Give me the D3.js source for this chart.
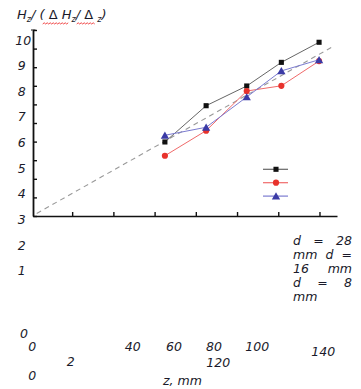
<!DOCTYPE html>
<html><head><meta charset="utf-8">
<script src="https://cdn.jsdelivr.net/npm/d3@7"></script>
<style>
html,body{margin:0;padding:0;background:#fff;}
svg{display:block;}
text{font-family:"DejaVu Sans",sans-serif;font-style:italic;fill:#1a1a2a;}
</style></head>
<body>
<script>
// ---- data ----
const zValues = [65, 85, 104.7, 121.5, 139.8];
const d28 = [3.98, 5.93, 6.99, 8.26, 9.34];
const d16 = [3.24, 4.59, 6.72, 7.00, 8.33];
const d8  = [4.34, 4.77, 6.40, 7.80, 8.40];
const fitZ = [2.8, 147.3];
const fitH = [0.14, 9.16];
const seriesNames = ["d = 28 mm", "d = 16 mm", "d = 8 mm"];
const xTicks = [20, 40, 60, 80, 100, 120, 140];
const yTicks = [0,1,2,3,4,5,6,7,8,9,10];
const xTickLabels = ["0","20","40","60","80","100","120","140"];
const yTickLabels = ["10","9","8","7","6","5","4","3","2","1","0"];
const xTitle = "z, mm";

const W = 361, H = 389;
const svg = d3.select("body").append("svg").attr("width", W).attr("height", H);

const x = d3.scaleLinear().domain([1, 148.5]).range([33, 337]);
const y = d3.scaleLinear().domain([0, 10]).range([216, 30]);

// axes
const gx = svg.append("g").attr("transform", `translate(0,${y(0)})`)
  .call(d3.axisBottom(x).tickValues(xTicks).tickSize(-4).tickSizeOuter(0).tickFormat(""));
gx.select(".domain").attr("stroke", "#111").attr("stroke-width", 1.6);
gx.selectAll(".tick line").attr("stroke", "#111").attr("stroke-width", 1.4);

const gy = svg.append("g").attr("transform", `translate(${x(1)},0)`)
  .call(d3.axisLeft(y).tickValues(yTicks).tickSize(-4).tickSizeOuter(0).tickFormat(""));
gy.select(".domain").attr("stroke", "#111").attr("stroke-width", 1.8);
gy.selectAll(".tick line").attr("stroke", "#111").attr("stroke-width", 1.4);

// fit dashed line
svg.append("line")
  .attr("x1", x(fitZ[0])).attr("y1", y(fitH[0]))
  .attr("x2", x(fitZ[1])).attr("y2", y(fitH[1]))
  .attr("stroke", "#999").attr("stroke-width", 1.1).attr("stroke-dasharray", "5,4");

const series = [
  {name: seriesNames[0], vals: d28, line: "#666", fill: "#111", shape: "square"},
  {name: seriesNames[1], vals: d16, line: "#f06a6a", fill: "#e8322c", shape: "circle"},
  {name: seriesNames[2], vals: d8,  line: "#7b7bd0", fill: "#3b3ba6", shape: "triangle"}
];
const sym = {square: d3.symbolSquare, circle: d3.symbolCircle, triangle: d3.symbolTriangle};
const symSize = {square: 26, circle: 30, triangle: 30};

const line = d3.line().x(d => x(d[0])).y(d => y(d[1]));
series.forEach(s => {
  const pts = zValues.map((z, i) => [z, s.vals[i]]);
  svg.append("path").attr("d", line(pts)).attr("fill", "none")
    .attr("stroke", s.line).attr("stroke-width", 1);
  svg.selectAll(null).data(pts).enter().append("path")
    .attr("d", d3.symbol(sym[s.shape], symSize[s.shape]))
    .attr("transform", d => `translate(${x(d[0])},${y(d[1]) + (s.shape === "triangle" ? 1 : 0)})`)
    .attr("fill", s.fill);
});

// legend markers
const legX = 276, legY0 = 169.3, legDy = 13.4;
series.forEach((s, i) => {
  const ly = legY0 + i * legDy;
  svg.append("line").attr("x1", legX - 13).attr("x2", legX + 12)
    .attr("y1", ly).attr("y2", ly).attr("stroke", s.line).attr("stroke-width", 1.2);
  svg.append("path").attr("d", d3.symbol(sym[s.shape], symSize[s.shape])())
    .attr("transform", `translate(${legX},${ly + (s.shape === "triangle" ? 1 : 0)})`)
    .attr("fill", s.fill);
});

// legend text: flowed & justified column
const words = seriesNames.join(" ").split(" ");
const breaks = [3, 3, 2, 3, 1];
const colL = 293, colR = 352, lineY0 = 240, lineDy = 14;
let wi = 0;
breaks.forEach((n, li) => {
  const lw = words.slice(wi, wi + n); wi += n;
  const ly = lineY0 + li * lineDy;
  const nodes = lw.map(w => svg.append("text").attr("font-size", 12.5)
    .attr("dominant-baseline", "central").attr("y", ly).text(w));
  const widths = nodes.map(t => t.node().getComputedTextLength());
  const total = d3.sum(widths);
  const last = li === breaks.length - 1;
  const gap = (nodes.length > 1 && !last) ? (colR - colL - total) / (nodes.length - 1) : 5;
  let cx = colL;
  nodes.forEach((t, k) => { t.attr("x", cx); cx += widths[k] + gap; });
});

// y tick labels (flowed layout as in reference)
const yLab = d3.scaleLinear().domain([0, 9]).range([40, 270.7]);
yTickLabels.forEach((t, i) => {
  const isZero = t === "0";
  svg.append("text").attr("font-size", 12.5).attr("text-anchor", "middle")
    .attr("dominant-baseline", "central")
    .attr("x", isZero ? 24 : (t === "10" ? 23.3 : 21.7))
    .attr("y", isZero ? 333.3 : yLab(i)).text(t);
});

// x tick labels (flowed layout as in reference)
const xLabPos = {
  "0": [[32.3, 346.7]],
  "40": [[132.7, 346.7]], "60": [[174, 346.7]], "80": [[214, 346.7]],
  "100": [[257.3, 346.7]], "120": [[218.3, 362.5]], "140": [[323.3, 351]]
};
xTickLabels.forEach(t => {
  if (t === "20") {
    svg.append("text").attr("font-size", 12.5).attr("text-anchor", "middle")
      .attr("dominant-baseline", "central").attr("x", 70.7).attr("y", 361.7).text(t[0]);
    svg.append("text").attr("font-size", 12.5).attr("text-anchor", "middle")
      .attr("dominant-baseline", "central").attr("x", 32.3).attr("y", 375).text(t[1]);
    return;
  }
  xLabPos[t].forEach(p => svg.append("text").attr("font-size", 12.5).attr("text-anchor", "middle")
    .attr("dominant-baseline", "central").attr("x", p[0]).attr("y", p[1]).text(t));
});

// x title
svg.append("text").attr("font-size", 12.5).attr("x", 163).attr("y", 380.5)
  .attr("dominant-baseline", "central").text(xTitle);

// y title  H_z/(ΔH_z/Δ_z)
const yt = svg.append("text").attr("x", 17).attr("y", 19).attr("font-size", 13);
yt.append("tspan").text("H");
yt.append("tspan").attr("font-size", 8).attr("dy", 3).text("z");
yt.append("tspan").attr("dy", -3).text("/ (");
yt.append("tspan").attr("font-style", "normal").text(" Δ ");
yt.append("tspan").text("H");
yt.append("tspan").attr("font-size", 8).attr("dy", 3).text("z");
yt.append("tspan").attr("dy", -3).text("/ ");
yt.append("tspan").attr("font-style", "normal").text("Δ ");
yt.append("tspan").attr("font-size", 8).attr("dy", 3).text("z");
yt.append("tspan").attr("dy", -3).text(")");

// spell-check squiggles under title
function squiggle(x0, x1, yy) {
  const p = d3.path(); p.moveTo(x0, yy);
  let up = true;
  for (let xx = x0 + 1.5; xx <= x1; xx += 1.5) { p.lineTo(xx, up ? yy - 1.2 : yy); up = !up; }
  return p.toString();
}
svg.append("path").attr("d", squiggle(42.7, 69, 24)).attr("fill", "none").attr("stroke", "#e33").attr("stroke-width", 0.9);
svg.append("path").attr("d", squiggle(76.7, 95, 24)).attr("fill", "none").attr("stroke", "#e33").attr("stroke-width", 0.9);
svg.append("line").attr("x1", 31).attr("x2", 35.5).attr("y1", 30).attr("y2", 30).attr("stroke", "#111").attr("stroke-width", 1);
</script>
</body></html>
